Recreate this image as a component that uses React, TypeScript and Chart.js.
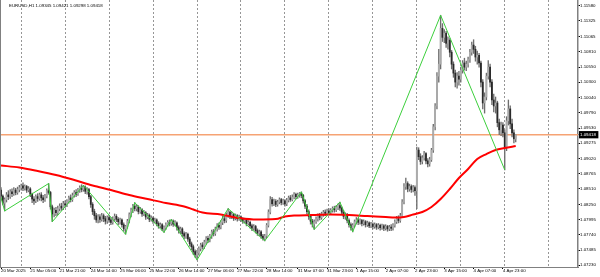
import React, { useEffect, useRef } from 'react';
import { Chart, registerables } from 'chart.js';

Chart.register(...registerables);

// ---------- data ----------
const SYMBOL = 'EURUSD,H1';

// bar index (hourly bars, 0 = 20 Mar 2025 13:00) of the time-axis labels
const xLabelIdx = [0, 16, 32, 49, 65, 81, 97, 113, 129, 145, 162, 178, 194, 210, 226, 242, 258, 274];
const xLabelText = [
  '20 Mar 2025', '21 Mar 05:00', '21 Mar 21:00', '24 Mar 14:00', '25 Mar 06:00', '25 Mar 22:00',
  '26 Mar 14:00', '27 Mar 06:00', '27 Mar 22:00', '28 Mar 14:00', '31 Mar 07:00', '31 Mar 23:00',
  '1 Apr 15:00', '2 Apr 07:00', '2 Apr 23:00', '3 Apr 15:00', '4 Apr 07:00', '4 Apr 23:00',
];
// first bar of each trading day (day separators)
const dayStartIdx = [11, 35, 59, 83, 107, 131, 155, 179, 203, 227, 251, 275, 299];

const yTickValues = [
  1.1158, 1.11325, 1.11065, 1.1081, 1.1055, 1.103, 1.1004, 1.0979, 1.0953,
  1.09275, 1.0902, 1.08765, 1.0851, 1.0825, 1.07995, 1.0774, 1.07485, 1.0723,
];

const opens = [
  1.0849, 1.0839, 1.0827, 1.0833, 1.0841, 1.0838, 1.0846, 1.0843, 1.0849, 1.0845,
  1.0850, 1.0853, 1.0856, 1.0852, 1.0855, 1.0849, 1.0851, 1.0842, 1.0834, 1.0831,
  1.0838, 1.0835, 1.0841, 1.0836, 1.0833, 1.0839, 1.0848, 1.0845, 1.0821, 1.0809,
  1.0815, 1.0811, 1.0818, 1.0822, 1.0819, 1.0826, 1.0824, 1.0830, 1.0836, 1.0833,
  1.0840, 1.0845, 1.0842, 1.0849, 1.0853, 1.0850, 1.0854, 1.0847, 1.0850, 1.0838,
  1.0825, 1.0813, 1.0806, 1.0799, 1.0804, 1.0800, 1.0806, 1.0801, 1.0797, 1.0803,
  1.0799, 1.0795, 1.0801, 1.0805, 1.0800, 1.0796, 1.0799, 1.0791, 1.0784, 1.0788,
  1.0797, 1.0808, 1.0815, 1.0822, 1.0818, 1.0821, 1.0813, 1.0816, 1.0809, 1.0811,
  1.0804, 1.0807, 1.0800, 1.0802, 1.0797, 1.0799, 1.0793, 1.0789, 1.0791, 1.0784,
  1.0786, 1.0791, 1.0795, 1.0793, 1.0797, 1.0792, 1.0794, 1.0786, 1.0781, 1.0784,
  1.0776, 1.0772, 1.0775, 1.0767, 1.0759, 1.0754, 1.0746, 1.0741, 1.0744, 1.0751,
  1.0757, 1.0754, 1.0762, 1.0768, 1.0765, 1.0772, 1.0779, 1.0776, 1.0784, 1.0790,
  1.0787, 1.0795, 1.0801, 1.0798, 1.0807, 1.0812, 1.0805, 1.0808, 1.0802, 1.0806,
  1.0801, 1.0804, 1.0800, 1.0797, 1.0799, 1.0793, 1.0795, 1.0789, 1.0785, 1.0788,
  1.0781, 1.0777, 1.0779, 1.0772, 1.0768, 1.0772, 1.0790, 1.0812, 1.0833, 1.0826,
  1.0830, 1.0825, 1.0829, 1.0833, 1.0828, 1.0831, 1.0826, 1.0832, 1.0836, 1.0833,
  1.0837, 1.0842, 1.0838, 1.0841, 1.0843, 1.0840, 1.0831, 1.0822, 1.0813, 1.0805,
  1.0797, 1.0792, 1.0796, 1.0801, 1.0806, 1.0803, 1.0809, 1.0812, 1.0810, 1.0814,
  1.0811, 1.0815, 1.0818, 1.0816, 1.0820, 1.0823, 1.0819, 1.0812, 1.0805, 1.0808,
  1.0798, 1.0791, 1.0786, 1.0790, 1.0796, 1.0799, 1.0795, 1.0798, 1.0793, 1.0796,
  1.0791, 1.0794, 1.0789, 1.0792, 1.0788, 1.0791, 1.0787, 1.0790, 1.0786, 1.0789,
  1.0785, 1.0788, 1.0784, 1.0787, 1.0785, 1.0790, 1.0796, 1.0801, 1.0798, 1.0806,
  1.0829, 1.0855, 1.0860, 1.0851, 1.0855, 1.0850, 1.0853, 1.0848, 1.0916, 1.0905,
  1.0897, 1.0903, 1.0910, 1.0898, 1.0893, 1.0900, 1.0916, 1.0955, 1.0990, 1.1040,
  1.1060, 1.1120, 1.1105, 1.1112, 1.1095, 1.1100, 1.1080, 1.1060, 1.1045, 1.1030,
  1.1040, 1.1035, 1.1050, 1.1062, 1.1055, 1.1060, 1.1068, 1.1080, 1.1092, 1.1085,
  1.1072, 1.1075, 1.1062, 1.1030, 1.0995, 1.1005, 1.1040, 1.1055, 1.1030, 1.1000,
  1.0990, 1.0995, 1.0962, 1.0950, 1.0958, 1.0945, 1.0920, 1.0965, 1.0985, 1.0960,
  1.0945, 1.09345,
];
const highs = [
  1.0853, 1.0841, 1.0836, 1.0845, 1.0848, 1.0850, 1.0851, 1.0853, 1.0852, 1.0854,
  1.0857, 1.0859, 1.0861, 1.0858, 1.0857, 1.0855, 1.0853, 1.0844, 1.0838, 1.0841,
  1.0843, 1.0844, 1.0845, 1.0840, 1.0842, 1.0851, 1.0860, 1.0847, 1.0824, 1.0819,
  1.0820, 1.0822, 1.0826, 1.0827, 1.0830, 1.0831, 1.0833, 1.0839, 1.0841, 1.0844,
  1.0848, 1.0850, 1.0852, 1.0856, 1.0858, 1.0857, 1.0856, 1.0853, 1.0852, 1.0840,
  1.0828, 1.0817, 1.0810, 1.0808, 1.0808, 1.0810, 1.0809, 1.0805, 1.0806, 1.0807,
  1.0803, 1.0804, 1.0809, 1.0808, 1.0803, 1.0802, 1.0801, 1.0794, 1.0790, 1.0800,
  1.0811, 1.0819, 1.0825, 1.0828, 1.0825, 1.0823, 1.0820, 1.0818, 1.0815, 1.0813,
  1.0810, 1.0809, 1.0806, 1.0804, 1.0802, 1.0801, 1.0796, 1.0794, 1.0793, 1.0789,
  1.0794, 1.0798, 1.0799, 1.0800, 1.0799, 1.0798, 1.0796, 1.0789, 1.0787, 1.0786,
  1.0779, 1.0778, 1.0777, 1.0770, 1.0762, 1.0757, 1.0749, 1.0748, 1.0754, 1.0760,
  1.0761, 1.0765, 1.0771, 1.0772, 1.0775, 1.0782, 1.0783, 1.0787, 1.0793, 1.0794,
  1.0798, 1.0805, 1.0806, 1.0811, 1.0818, 1.0814, 1.0812, 1.0810, 1.0809, 1.0808,
  1.0807, 1.0806, 1.0803, 1.0802, 1.0801, 1.0798, 1.0797, 1.0792, 1.0791, 1.0790,
  1.0784, 1.0782, 1.0781, 1.0775, 1.0775, 1.0793, 1.0816, 1.0838, 1.0837, 1.0834,
  1.0833, 1.0832, 1.0836, 1.0835, 1.0834, 1.0833, 1.0835, 1.0839, 1.0840, 1.0841,
  1.0845, 1.0844, 1.0844, 1.0845, 1.0846, 1.0842, 1.0833, 1.0825, 1.0816, 1.0808,
  1.0800, 1.0799, 1.0804, 1.0809, 1.0810, 1.0812, 1.0815, 1.0816, 1.0817, 1.0818,
  1.0818, 1.0821, 1.0822, 1.0823, 1.0826, 1.0829, 1.0821, 1.0815, 1.0811, 1.0810,
  1.0801, 1.0794, 1.0793, 1.0799, 1.0803, 1.0802, 1.0801, 1.0800, 1.0799, 1.0798,
  1.0797, 1.0796, 1.0795, 1.0794, 1.0794, 1.0793, 1.0793, 1.0792, 1.0792, 1.0791,
  1.0791, 1.0790, 1.0790, 1.0791, 1.0793, 1.0799, 1.0805, 1.0806, 1.0810, 1.0833,
  1.0860, 1.0869, 1.0863, 1.0859, 1.0858, 1.0857, 1.0856, 1.0921, 1.0920, 1.0910,
  1.0907, 1.0914, 1.0912, 1.0902, 1.0904, 1.0919, 1.0959, 1.0994, 1.1046, 1.1085,
  1.1142, 1.1128, 1.1118, 1.1115, 1.1106, 1.1103, 1.1083, 1.1064, 1.1050, 1.1046,
  1.1048, 1.1055, 1.1066, 1.1070, 1.1065, 1.1072, 1.1085, 1.1097, 1.1101, 1.1090,
  1.1082, 1.1078, 1.1065, 1.1034, 1.1012, 1.1045, 1.1066, 1.1060, 1.1034, 1.1010,
  1.1005, 1.0998, 1.0968, 1.0963, 1.0962, 1.0950, 1.0972, 1.1000, 1.0990, 1.0968,
  1.0950, 1.09421,
];
const lows = [
  1.0832, 1.0824, 1.0814, 1.0829, 1.0833, 1.0835, 1.0838, 1.0840, 1.0841, 1.0842,
  1.0846, 1.0849, 1.0848, 1.0849, 1.0845, 1.0846, 1.0838, 1.0828, 1.0825, 1.0828,
  1.0830, 1.0832, 1.0831, 1.0828, 1.0830, 1.0836, 1.0842, 1.0817, 1.0796, 1.0804,
  1.0806, 1.0808, 1.0814, 1.0815, 1.0816, 1.0820, 1.0821, 1.0827, 1.0829, 1.0830,
  1.0837, 1.0838, 1.0840, 1.0845, 1.0846, 1.0847, 1.0843, 1.0842, 1.0834, 1.0820,
  1.0808, 1.0800, 1.0795, 1.0794, 1.0795, 1.0797, 1.0796, 1.0792, 1.0793, 1.0795,
  1.0791, 1.0792, 1.0798, 1.0796, 1.0791, 1.0792, 1.0787, 1.0780, 1.0775, 1.0785,
  1.0794, 1.0804, 1.0811, 1.0814, 1.0814, 1.0809, 1.0810, 1.0805, 1.0806, 1.0800,
  1.0801, 1.0796, 1.0797, 1.0793, 1.0794, 1.0789, 1.0785, 1.0786, 1.0781, 1.0778,
  1.0783, 1.0788, 1.0789, 1.0790, 1.0788, 1.0789, 1.0782, 1.0777, 1.0776, 1.0771,
  1.0767, 1.0768, 1.0763, 1.0755, 1.0749, 1.0741, 1.0736, 1.0732, 1.0740, 1.0747,
  1.0750, 1.0751, 1.0758, 1.0761, 1.0762, 1.0768, 1.0772, 1.0773, 1.0780, 1.0783,
  1.0784, 1.0791, 1.0794, 1.0795, 1.0803, 1.0801, 1.0801, 1.0798, 1.0799, 1.0797,
  1.0798, 1.0796, 1.0793, 1.0794, 1.0789, 1.0790, 1.0785, 1.0781, 1.0782, 1.0777,
  1.0773, 1.0772, 1.0768, 1.0765, 1.0764, 1.0769, 1.0787, 1.0809, 1.0822, 1.0823,
  1.0821, 1.0822, 1.0826, 1.0824, 1.0825, 1.0822, 1.0823, 1.0829, 1.0830, 1.0831,
  1.0834, 1.0834, 1.0835, 1.0837, 1.0836, 1.0827, 1.0818, 1.0809, 1.0800, 1.0792,
  1.0787, 1.0783, 1.0793, 1.0797, 1.0799, 1.0800, 1.0805, 1.0806, 1.0807, 1.0808,
  1.0808, 1.0812, 1.0812, 1.0813, 1.0816, 1.0815, 1.0808, 1.0801, 1.0800, 1.0794,
  1.0787, 1.0782, 1.0779, 1.0787, 1.0792, 1.0791, 1.0792, 1.0789, 1.0790, 1.0787,
  1.0788, 1.0786, 1.0786, 1.0784, 1.0785, 1.0783, 1.0784, 1.0782, 1.0783, 1.0781,
  1.0782, 1.0780, 1.0781, 1.0781, 1.0782, 1.0787, 1.0793, 1.0794, 1.0795, 1.0803,
  1.0826, 1.0850, 1.0846, 1.0847, 1.0845, 1.0846, 1.0840, 1.0818, 1.0900, 1.0892,
  1.0893, 1.0899, 1.0893, 1.0888, 1.0889, 1.0897, 1.0912, 1.0950, 1.0985, 1.1030,
  1.1052, 1.1098, 1.1096, 1.1088, 1.1085, 1.1072, 1.1052, 1.1038, 1.1022, 1.1020,
  1.1025, 1.1030, 1.1045, 1.1050, 1.1049, 1.1055, 1.1063, 1.1075, 1.1078, 1.1065,
  1.1060, 1.1055, 1.1022, 1.0985, 1.0978, 1.1000, 1.1035, 1.1022, 1.0992, 1.0980,
  1.0978, 1.0955, 1.0942, 1.0940, 1.0938, 1.0883, 1.0915, 1.0958, 1.0952, 1.0938,
  1.0928, 1.09298,
];
const closes = [
  1.0839, 1.0827, 1.0833, 1.0841, 1.0838, 1.0846, 1.0843, 1.0849, 1.0845, 1.0850,
  1.0853, 1.0856, 1.0852, 1.0855, 1.0849, 1.0851, 1.0842, 1.0834, 1.0831, 1.0838,
  1.0835, 1.0841, 1.0836, 1.0833, 1.0839, 1.0848, 1.0845, 1.0821, 1.0809, 1.0815,
  1.0811, 1.0818, 1.0822, 1.0819, 1.0826, 1.0824, 1.0830, 1.0836, 1.0833, 1.0840,
  1.0845, 1.0842, 1.0849, 1.0853, 1.0850, 1.0854, 1.0847, 1.0850, 1.0838, 1.0825,
  1.0813, 1.0806, 1.0799, 1.0804, 1.0800, 1.0806, 1.0801, 1.0797, 1.0803, 1.0799,
  1.0795, 1.0801, 1.0805, 1.0800, 1.0796, 1.0799, 1.0791, 1.0784, 1.0788, 1.0797,
  1.0808, 1.0815, 1.0822, 1.0818, 1.0821, 1.0813, 1.0816, 1.0809, 1.0811, 1.0804,
  1.0807, 1.0800, 1.0802, 1.0797, 1.0799, 1.0793, 1.0789, 1.0791, 1.0784, 1.0786,
  1.0791, 1.0795, 1.0793, 1.0797, 1.0792, 1.0794, 1.0786, 1.0781, 1.0784, 1.0776,
  1.0772, 1.0775, 1.0767, 1.0759, 1.0754, 1.0746, 1.0741, 1.0744, 1.0751, 1.0757,
  1.0754, 1.0762, 1.0768, 1.0765, 1.0772, 1.0779, 1.0776, 1.0784, 1.0790, 1.0787,
  1.0795, 1.0801, 1.0798, 1.0807, 1.0812, 1.0805, 1.0808, 1.0802, 1.0806, 1.0801,
  1.0804, 1.0800, 1.0797, 1.0799, 1.0793, 1.0795, 1.0789, 1.0785, 1.0788, 1.0781,
  1.0777, 1.0779, 1.0772, 1.0768, 1.0772, 1.0790, 1.0812, 1.0833, 1.0826, 1.0830,
  1.0825, 1.0829, 1.0833, 1.0828, 1.0831, 1.0826, 1.0832, 1.0836, 1.0833, 1.0837,
  1.0842, 1.0838, 1.0841, 1.0843, 1.0840, 1.0831, 1.0822, 1.0813, 1.0805, 1.0797,
  1.0792, 1.0796, 1.0801, 1.0806, 1.0803, 1.0809, 1.0812, 1.0810, 1.0814, 1.0811,
  1.0815, 1.0818, 1.0816, 1.0820, 1.0823, 1.0819, 1.0812, 1.0805, 1.0808, 1.0798,
  1.0791, 1.0786, 1.0790, 1.0796, 1.0799, 1.0795, 1.0798, 1.0793, 1.0796, 1.0791,
  1.0794, 1.0789, 1.0792, 1.0788, 1.0791, 1.0787, 1.0790, 1.0786, 1.0789, 1.0785,
  1.0788, 1.0784, 1.0787, 1.0785, 1.0790, 1.0796, 1.0801, 1.0798, 1.0806, 1.0829,
  1.0855, 1.0860, 1.0851, 1.0855, 1.0850, 1.0853, 1.0848, 1.0916, 1.0905, 1.0897,
  1.0903, 1.0910, 1.0898, 1.0893, 1.0900, 1.0916, 1.0955, 1.0990, 1.1040, 1.1060,
  1.1120, 1.1105, 1.1112, 1.1095, 1.1100, 1.1080, 1.1060, 1.1045, 1.1030, 1.1040,
  1.1035, 1.1050, 1.1062, 1.1055, 1.1060, 1.1068, 1.1080, 1.1092, 1.1085, 1.1072,
  1.1075, 1.1062, 1.1030, 1.0995, 1.1005, 1.1040, 1.1055, 1.1030, 1.1000, 1.0990,
  1.0995, 1.0962, 1.0950, 1.0958, 1.0945, 1.0920, 1.0965, 1.0985, 1.0960, 1.0945,
  1.0935, 1.09418,
];

// moving average (red), read at selected bars
const maIdx = [0, 10, 20, 30, 40, 50, 60, 70, 80, 90, 100, 105, 110, 120, 130, 140, 150, 155, 160, 170, 180, 190, 200, 210, 215, 220, 225, 230, 235, 240, 245, 250, 255, 260, 265, 270, 275, 281];
const maVal = [
  1.08902, 1.08868, 1.0881, 1.08743, 1.08659, 1.08567, 1.08491, 1.08407, 1.0834, 1.08273,
  1.08215, 1.08164, 1.08114, 1.08081, 1.08022, 1.07997, 1.08005, 1.08047, 1.08064, 1.08072,
  1.08081, 1.08072, 1.08055, 1.08039, 1.0803, 1.08039, 1.08081, 1.08122, 1.08206, 1.0834,
  1.08508, 1.08692, 1.08843, 1.09011, 1.09094, 1.09162, 1.09195, 1.09229,
];

// ZigZag (green) vertices
const zzIdx = [-3, 2, 26, 28, 45, 68, 73, 89, 93, 107, 124, 144, 164, 171, 185, 192, 240, 275];
const zzVal = [
  1.087, 1.0814, 1.086, 1.0796, 1.0857, 1.0775, 1.0828, 1.0778, 1.08, 1.0732,
  1.0818, 1.0764, 1.0846, 1.0783, 1.0829, 1.0779, 1.1142, 1.0883,
];

// ---------- view ----------
const X_MIN = -0.55;
const X_MAX = 315.0;
const Y_MIN = 1.07201;
const Y_MAX = 1.116755;
const FONT = 'Liberation Sans';
const FONT_SIZE = 4.4;

const decorPlugin = {
  id: 'mtDecor',
  afterDraw(chart: any) {
    const { ctx, chartArea } = chart;
    const n = closes.length;
    ctx.save();
    ctx.strokeStyle = '#808080';
    ctx.lineWidth = 1;
    ctx.beginPath();
    ctx.moveTo(chartArea.left + 0.5, chartArea.top);
    ctx.lineTo(chartArea.left + 0.5, chartArea.bottom);
    ctx.stroke();
    ctx.fillStyle = '#000';
    ctx.font = `${FONT_SIZE}px "${FONT}"`;
    ctx.textBaseline = 'middle';
    ctx.textAlign = 'left';
    const header = `${SYMBOL} ${opens[n - 1].toFixed(5)} ${highs[n - 1].toFixed(5)} ${lows[n - 1].toFixed(5)} ${closes[n - 1].toFixed(5)}`;
    ctx.fillText(header, 9, 5.3);
    ctx.restore();
  },
};

export default function App() {
  const ref = useRef<HTMLCanvasElement>(null);

  useEffect(() => {
    document.body.style.margin = '0';
    const n = closes.length;
    const lastClose = closes[n - 1];
    const bars = closes.map((_, i) => i);
    const bull = bars.map((i) => closes[i] >= opens[i]);

    const zeroPad = (scale: any) => {
      scale.paddingTop = 0;
      scale.paddingBottom = 0;
      scale.paddingLeft = 0;
      scale.paddingRight = 0;
    };

    const chart = new Chart(ref.current as HTMLCanvasElement, {
      type: 'bar',
      data: {
        datasets: [
          {
            type: 'line',
            label: 'ZigZag',
            data: zzIdx.map((x, k) => ({ x, y: zzVal[k] })),
            borderColor: '#3ccf3c',
            borderWidth: 1,
            pointRadius: 0,
            tension: 0,
            clip: 0,
            order: 0,
          } as any,
          {
            type: 'line',
            label: 'MA',
            data: maIdx.map((x, k) => ({ x, y: maVal[k] })),
            borderColor: '#ff0000',
            borderWidth: 2,
            pointRadius: 0,
            cubicInterpolationMode: 'monotone',
            clip: 0,
            order: 1,
          } as any,
          {
            type: 'bar',
            label: 'Body',
            data: bars.map((i) => ({ x: i, y: [opens[i], closes[i]] })),
            backgroundColor: bars.map((i) => (bull[i] ? '#ababab' : '#2a2a2a')),
            borderWidth: 0,
            barThickness: 1.15,
            grouped: false,
            minBarLength: 0.6,
            order: 2,
          } as any,
          {
            type: 'bar',
            label: 'Wick',
            data: bars.map((i) => ({ x: i, y: [lows[i], highs[i]] })),
            backgroundColor: '#6e6e6e',
            borderWidth: 0,
            barThickness: 0.7,
            grouped: false,
            order: 3,
          } as any,
          {
            type: 'line',
            label: 'Bid',
            data: [
              { x: X_MIN, y: lastClose },
              { x: X_MAX, y: lastClose },
            ],
            borderColor: '#f6a374',
            borderWidth: 1.5,
            pointRadius: 0,
            clip: 0,
            order: 4,
          } as any,
        ],
      },
      options: {
        responsive: false,
        maintainAspectRatio: false,
        animation: false,
        devicePixelRatio: 1,
        events: [],
        layout: { padding: 0 },
        plugins: {
          legend: { display: false },
          tooltip: { enabled: false },
          title: { display: false },
        },
        scales: {
          x: {
            type: 'linear',
            position: 'bottom',
            min: X_MIN,
            max: X_MAX,
            bounds: 'data',
            offset: false,
            afterBuildTicks: (scale: any) => {
              scale.ticks = xLabelIdx.map((v) => ({ value: v }));
            },
            afterFit: (scale: any) => {
              scale.height = 10;
              zeroPad(scale);
            },
            ticks: {
              autoSkip: false,
              maxRotation: 0,
              minRotation: 0,
              align: 'start',
              padding: -1,
              color: '#000',
              font: { family: FONT, size: FONT_SIZE, lineHeight: 1.2 },
              callback: (value: any) => {
                const k = xLabelIdx.indexOf(Number(value));
                return k >= 0 ? xLabelText[k] : '';
              },
            },
            grid: {
              display: true,
              drawOnChartArea: false,
              drawTicks: true,
              tickLength: 2,
              color: '#000',
              offset: false,
            },
            border: { display: true, color: '#808080', width: 1 },
          },
          xg: {
            type: 'linear',
            position: 'top',
            min: X_MIN,
            max: X_MAX,
            bounds: 'data',
            offset: false,
            afterBuildTicks: (scale: any) => {
              scale.ticks = dayStartIdx.map((v) => ({ value: v }));
            },
            afterFit: (scale: any) => {
              scale.height = 0;
              zeroPad(scale);
            },
            ticks: { display: false, autoSkip: false },
            grid: {
              display: true,
              drawOnChartArea: true,
              drawTicks: false,
              color: '#969696',
              lineWidth: 1,
              offset: false,
            },
            border: { display: false, dash: [2, 2] },
          },
          y: {
            type: 'linear',
            position: 'right',
            min: Y_MIN,
            max: Y_MAX,
            bounds: 'data',
            beginAtZero: false,
            afterBuildTicks: (scale: any) => {
              scale.ticks = [...yTickValues, lastClose].map((v) => ({ value: v }));
            },
            afterFit: (scale: any) => {
              scale.width = 22;
              zeroPad(scale);
            },
            ticks: {
              autoSkip: false,
              padding: 0,
              font: { family: FONT, size: FONT_SIZE, lineHeight: 1.2 },
              color: (ctx: any) => (ctx.tick && ctx.tick.value === lastClose ? '#ffffff' : '#000000'),
              showLabelBackdrop: (ctx: any) => !!(ctx.tick && ctx.tick.value === lastClose),
              backdropColor: '#000000',
              backdropPadding: { top: 1, bottom: 1, left: 1, right: 2.5 },
              callback: (value: any) => Number(value).toFixed(5),
            },
            grid: {
              display: true,
              drawOnChartArea: false,
              drawTicks: true,
              tickLength: 2,
              color: '#000',
            },
            border: { display: true, color: '#808080', width: 1.5 },
          },
        },
      } as any,
      plugins: [decorPlugin],
    });

    return () => chart.destroy();
  }, []);

  return (
    <div style={{ width: 600, height: 277, background: '#fff' }}>
      <canvas ref={ref} width={600} height={277} style={{ display: 'block' }} />
    </div>
  );
}
